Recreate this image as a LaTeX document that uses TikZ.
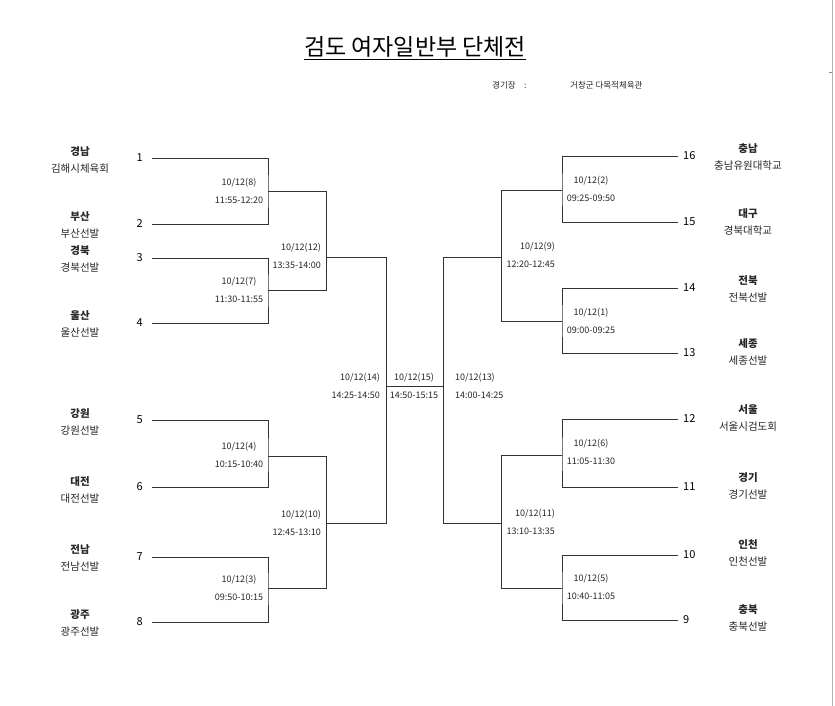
\documentclass[tikz,border=0pt]{standalone}
\usepackage{fontspec}
\setmainfont{Noto Sans CJK KR}
\usetikzlibrary{positioning,calc}

\begin{document}
\begin{tikzpicture}[x=1pt, y=-1pt,
    title/.style={font=\fontsize{23}{23}\selectfont, inner sep=0pt},
    venue/.style={font=\fontsize{8.5}{9}\selectfont, inner sep=0pt, anchor=west, text=black!85},
    seed/.style={font=\fontsize{11}{11}\selectfont, inner sep=1pt},
    team/.style={font=\fontsize{10.5}{17}\selectfont, align=center, inner sep=0pt, text=black!85},
    match/.style={font=\fontsize{9}{18}\selectfont, inner sep=0pt, text=black!85},
    line/.style={draw=black!80, line width=0.6pt}
]
\useasboundingbox[fill=white] (0,0) rectangle (835,706);

% Title and venue
\node[title] (title) at (415,48) {\underline{검도 여자일반부 단체전}};
\node[venue] (venuekey) at (492,85) {경기장\quad:};
\node[venue] (venue) at (570,85) {거창군 다목적체육관};

% Line ends of the left half
\coordinate (a1) at (152,158);
\coordinate (a2) at (152,224);
\coordinate (a3) at (152,258);
\coordinate (a4) at (152,323);
\coordinate (a5) at (152,420);
\coordinate (a6) at (152,487);
\coordinate (a7) at (152,557);
\coordinate (a8) at (152,622);

% Line ends of the right half
\coordinate (b16) at (678,156);
\coordinate (b15) at (678,222);
\coordinate (b14) at (678,288);
\coordinate (b13) at (678,353);
\coordinate (b12) at (678,419);
\coordinate (b11) at (678,487);
\coordinate (b10) at (678,555);
\coordinate (b9) at (678,620);

% Junctions
\coordinate (j8) at (268,191);
\coordinate (j7) at (268,290);
\coordinate (j4) at (268,456);
\coordinate (j3) at (268,588);
\coordinate (j12) at (326,257);
\coordinate (j10) at (326,523);
\coordinate (j14) at (386,386);
\coordinate (j13) at (443,386);
\coordinate (j9) at (501,257);
\coordinate (j11) at (501,523);
\coordinate (j2) at (562,190);
\coordinate (j1) at (562,321);
\coordinate (j6) at (562,455);
\coordinate (j5) at (562,588);

% Seed numbers
\node[seed, left=8pt of a1] (s1) {1};
\node[seed, left=8pt of a2] (s2) {2};
\node[seed, left=8pt of a3] (s3) {3};
\node[seed, left=8pt of a4] (s4) {4};
\node[seed, left=8pt of a5] (s5) {5};
\node[seed, left=8pt of a6] (s6) {6};
\node[seed, left=8pt of a7] (s7) {7};
\node[seed, left=8pt of a8] (s8) {8};
\node[seed, right=4pt of b16] (s16) {16};
\node[seed, right=4pt of b15] (s15) {15};
\node[seed, right=4pt of b14] (s14) {14};
\node[seed, right=4pt of b13] (s13) {13};
\node[seed, right=4pt of b12] (s12) {12};
\node[seed, right=4pt of b11] (s11) {11};
\node[seed, right=4pt of b10] (s10) {10};
\node[seed, right=4pt of b9] (s9) {9};

% Teams
\node[team] (t1) at (80,160) {\textbf{경남}\\김해시체육회};
\node[team] (t2) at (80,225) {\textbf{부산}\\부산선발};
\node[team] (t3) at (80,259) {\textbf{경북}\\경북선발};
\node[team] (t4) at (80,324) {\textbf{울산}\\울산선발};
\node[team] (t5) at (80,422) {\textbf{강원}\\강원선발};
\node[team] (t6) at (80,490) {\textbf{대전}\\대전선발};
\node[team] (t7) at (80,558) {\textbf{전남}\\전남선발};
\node[team] (t8) at (80,623) {\textbf{광주}\\광주선발};
\node[team] (t16) at (748,157) {\textbf{충남}\\충남유원대학교};
\node[team] (t15) at (748,222) {\textbf{대구}\\경북대학교};
\node[team] (t14) at (748,289) {\textbf{전북}\\전북선발};
\node[team] (t13) at (748,352) {\textbf{세종}\\세종선발};
\node[team] (t12) at (748,418) {\textbf{서울}\\서울시검도회};
\node[team] (t11) at (748,486) {\textbf{경기}\\경기선발};
\node[team] (t10) at (748,553) {\textbf{인천}\\인천선발};
\node[team] (t9) at (748,618) {\textbf{충북}\\충북선발};

% Match dates and times
\node[match, align=center] (m8) at (239,191) {10/12(8)\\11:55-12:20};
\node[match, align=center] (m7) at (239,290) {10/12(7)\\11:30-11:55};
\node[match, align=center] (m4) at (239,455) {10/12(4)\\10:15-10:40};
\node[match, align=center] (m3) at (239,588) {10/12(3)\\09:50-10:15};
\node[match, align=right, anchor=east] (m12) at (321,256) {10/12(12)\\13:35-14:00};
\node[match, align=right, anchor=east] (m10) at (321,523) {10/12(10)\\12:45-13:10};
\node[match, align=right, anchor=east] (m14) at (380,386) {10/12(14)\\14:25-14:50};
\node[match, align=center] (m15) at (414,386) {10/12(15)\\14:50-15:15};
\node[match, align=left, anchor=west] (m13) at (455,386) {10/12(13)\\14:00-14:25};
\node[match, align=right, anchor=east] (m9) at (555,255) {10/12(9)\\12:20-12:45};
\node[match, align=right, anchor=east] (m11) at (555,522) {10/12(11)\\13:10-13:35};
\node[match, align=center] (m2) at (591,189) {10/12(2)\\09:25-09:50};
\node[match, align=center] (m1) at (591,321) {10/12(1)\\09:00-09:25};
\node[match, align=center] (m6) at (591,452) {10/12(6)\\11:05-11:30};
\node[match, align=center] (m5) at (591,587) {10/12(5)\\10:40-11:05};

% Left bracket
\draw[line] (a1) -| (j8) |- (a2);
\draw[line] (a3) -| (j7) |- (a4);
\draw[line] (a5) -| (j4) |- (a6);
\draw[line] (a7) -| (j3) |- (a8);
\draw[line] (j8) -- (j8 -| j12) -- (j7 -| j12) -- (j7);
\draw[line] (j4) -- (j4 -| j10) -- (j3 -| j10) -- (j3);
\draw[line] (j12) -- (j12 -| j14) -- (j10 -| j14) -- (j10);

% Right bracket
\draw[line] (b16) -| (j2) |- (b15);
\draw[line] (b14) -| (j1) |- (b13);
\draw[line] (b12) -| (j6) |- (b11);
\draw[line] (b10) -| (j5) |- (b9);
\draw[line] (j2) -- (j2 -| j9) -- (j1 -| j9) -- (j1);
\draw[line] (j6) -- (j6 -| j11) -- (j5 -| j11) -- (j5);
\draw[line] (j9) -- (j9 -| j13) -- (j11 -| j13) -- (j11);

% Final
\draw[line] (j14) -- (j13);

% Scan edge
\draw[black!30, line width=0.6pt] (832,0) -- (832,706);
\draw[black!45, line width=0.6pt] (829,72) -- (832,72);
\end{tikzpicture}
\end{document}
